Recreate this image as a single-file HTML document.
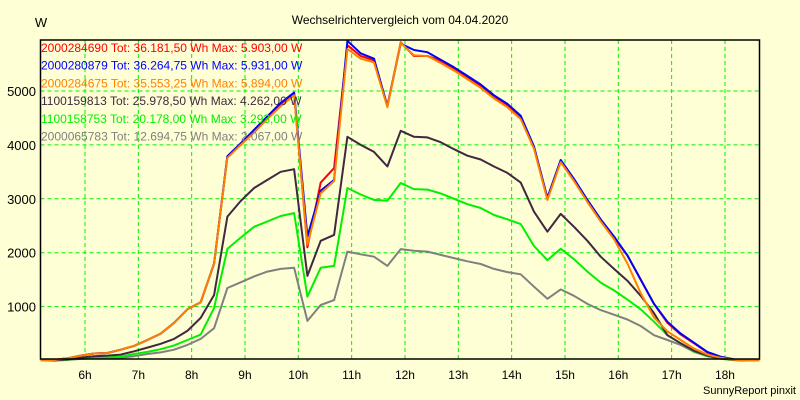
<!DOCTYPE html>
<html><head><meta charset="utf-8">
<style>
html,body{margin:0;padding:0;background:#FFFFD5;}
svg{display:block;font-family:"Liberation Sans",sans-serif;}
</style></head>
<body>
<svg id="chart" width="800" height="400" xmlns="http://www.w3.org/2000/svg">
<rect x="0" y="0" width="800" height="400" fill="#FFFFD5"/>
<text x="400" y="24" text-anchor="middle" font-size="12" fill="#000">Wechselrichtervergleich vom 04.04.2020</text>
<text x="41" y="27" text-anchor="middle" font-size="13" fill="#000">W</text>
<text x="796" y="394" text-anchor="end" font-size="11" fill="#000">SunnyReport pinxit</text>
<g id="grid"></g>
<g id="series"></g>
<g id="legend"></g>
<rect x="40.5" y="40" width="719" height="319" fill="none" stroke="#000" stroke-width="1.5"/>
</svg>
<script>
const times = [];
for (let k = 0; k <= 52; k++) times.push(5.42 + 0.25 * k);
const xTicks = [6,7,8,9,10,11,12,13,14,15,16,17,18];
const xTickLabels = ["6h","7h","8h","9h","10h","11h","12h","13h","14h","15h","16h","17h","18h"];
const yTicks = [1000,2000,3000,4000,5000];
const seriesNames = ["2000284690","2000280879","2000284675","1100159813","1100158753","2000065783"];
const seriesTot = ["36.181,50","36.264,75","35.553,25","25.978,50","20.178,00","12.694,75"];
const seriesMax = ["5.903,00","5.931,00","5.894,00","4.262,00","3.293,00","2.067,00"];
const seriesColors = ["#FF0000","#0000FF","#FF8000","#402840","#00F000","#808080"];
const red = [10,40,90,130,140,200,270,380,500,700,950,1080,1800,3790,4000,4250,4500,4750,4950,2100,3300,3570,5850,5650,5570,4720,5903,5650,5650,5560,5420,5260,5100,4900,4740,4520,3950,3000,3700,3350,2950,2600,2280,1950,1500,1050,700,480,320,150,60,20,0];
const blue = [10,40,90,130,140,200,270,380,500,700,950,1080,1800,3790,4030,4280,4530,4780,4970,2300,3150,3350,5931,5700,5600,4720,5880,5760,5720,5580,5440,5280,5120,4920,4760,4540,3970,3020,3720,3370,2980,2620,2300,1950,1500,1050,720,500,330,160,70,20,0];
const orange = [10,40,90,130,140,200,270,380,500,700,950,1080,1800,3760,4000,4230,4480,4720,4920,2150,3100,3330,5780,5600,5530,4700,5894,5660,5650,5520,5380,5220,5060,4860,4700,4480,3930,2980,3680,3330,2940,2580,2250,1800,1250,800,540,380,220,110,50,15,0];
const dark = [0,20,50,80,90,110,170,240,310,400,550,790,1215,2670,2960,3200,3350,3500,3550,1570,2220,2330,4150,4000,3870,3600,4262,4150,4140,4050,3920,3800,3730,3600,3480,3300,2760,2390,2720,2480,2220,1925,1700,1480,1200,880,470,320,180,90,40,10,0];
const green = [0,15,40,60,60,70,120,160,210,280,380,480,975,2070,2280,2480,2580,2680,2735,1185,1720,1755,3200,3080,2980,2965,3293,3180,3170,3100,3000,2900,2830,2700,2620,2530,2125,1860,2075,1880,1650,1445,1300,1130,950,720,470,320,170,80,30,10,0];
const gray = [0,10,30,40,40,50,80,120,150,200,290,400,600,1345,1450,1560,1650,1700,1720,735,1030,1120,2020,1970,1925,1755,2067,2035,2020,1960,1900,1840,1790,1700,1640,1600,1370,1145,1320,1200,1050,935,850,760,640,470,380,290,160,80,40,10,0];

const X0 = 40.5, X1 = 759.5, Y0 = 40, Y1 = 359;
function xScale(t){ return 85 + (t - 6) * 53.33; }
function yScale(v){ return 360.5 - v * 0.0539; }
const NS = "http://www.w3.org/2000/svg";
const grid = document.getElementById('grid');
const seriesG = document.getElementById('series');
const legend = document.getElementById('legend');

xTicks.forEach((t, i) => {
  const x = xScale(t);
  const l = document.createElementNS(NS, 'line');
  l.setAttribute('x1', x); l.setAttribute('x2', x);
  l.setAttribute('y1', Y0); l.setAttribute('y2', Y1);
  l.setAttribute('stroke', '#00F000'); l.setAttribute('stroke-dasharray', '4,3');
  
  
  grid.appendChild(l);
  const tx = document.createElementNS(NS, 'text');
  tx.setAttribute('x', x); tx.setAttribute('y', 379);
  tx.setAttribute('text-anchor', 'middle'); tx.setAttribute('font-size', '12');
  tx.textContent = xTickLabels[i];
  
  
  grid.appendChild(tx);
});
yTicks.forEach(v => {
  const y = yScale(v);
  const l = document.createElementNS(NS, 'line');
  l.setAttribute('x1', X0); l.setAttribute('x2', X1);
  l.setAttribute('y1', y); l.setAttribute('y2', y);
  l.setAttribute('stroke', '#00F000'); l.setAttribute('stroke-dasharray', '4,3');
  
  
  grid.appendChild(l);
  const tx = document.createElementNS(NS, 'text');
  tx.setAttribute('x', 36); tx.setAttribute('y', y + 5);
  tx.setAttribute('text-anchor', 'end'); tx.setAttribute('font-size', '13');
  tx.textContent = String(v);
  
  
  grid.appendChild(tx);
});

const allSeries = [gray, green, dark, red, blue, orange];
const order = [5, 4, 3, 0, 1, 2];
allSeries.forEach((vals, j) => {
  const idx = order[j];
  let d = 'M' + X0 + ',' + yScale(0) + ' L' + xScale(5.3) + ',' + yScale(0);
  vals.forEach((v, i) => { d += ' L' + xScale(times[i]).toFixed(1) + ',' + yScale(v).toFixed(1); });
  d += ' L' + X1 + ',' + yScale(0);
  const p = document.createElementNS(NS, 'path');
  p.setAttribute('d', d); p.setAttribute('fill', 'none');
  p.setAttribute('stroke', seriesColors[idx]); p.setAttribute('stroke-width', '2');
  p.setAttribute('stroke-linejoin', 'round');
  
  
  seriesG.appendChild(p);
});

seriesNames.forEach((n, i) => {
  const tx = document.createElementNS(NS, 'text');
  tx.setAttribute('x', 41); tx.setAttribute('y', 52 + i * 17.7);
  tx.setAttribute('font-size', '12'); tx.setAttribute('fill', seriesColors[i]);
  tx.textContent = n + ' Tot: ' + seriesTot[i] + ' Wh Max: ' + seriesMax[i] + ' W';
  
  
  legend.appendChild(tx);
});
</script>
</body></html>
